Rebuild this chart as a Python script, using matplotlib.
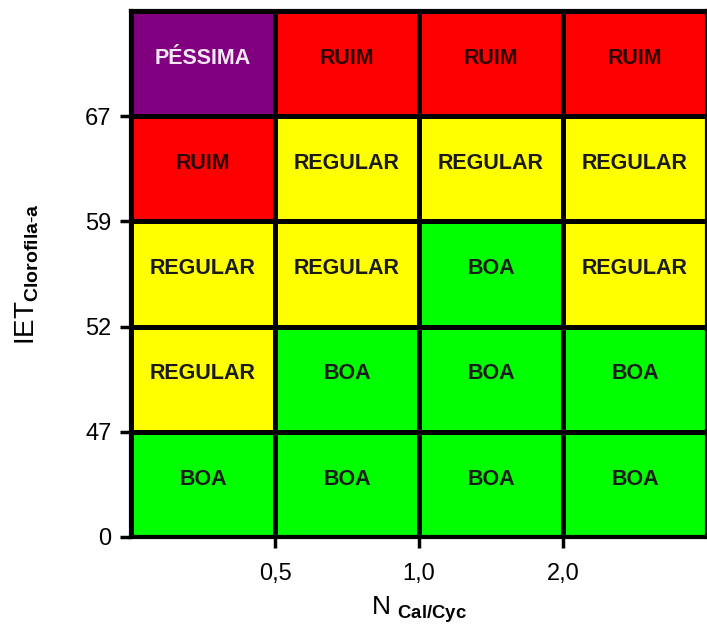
import matplotlib.pyplot as plt
import numpy as np
from matplotlib.colors import ListedColormap, BoundaryNorm

# quality classes and colours
classes = ["BOA", "REGULAR", "RUIM", "PÉSSIMA"]
class_colors = ["#00ff00", "#ffff00", "#ff0000", "#800080"]
text_colors = ["#1a1a1a", "#1a1a1a", "#2a0505", "#f4e8f4"]

x_tick_labels = ["0,5", "1,0", "2,0"]
y_tick_labels = ["0", "47", "52", "59", "67"]

# rows from bottom (IET 0-47) to top (>67), columns N classes
grid = [
    ["BOA", "BOA", "BOA", "BOA"],
    ["REGULAR", "BOA", "BOA", "BOA"],
    ["REGULAR", "REGULAR", "BOA", "REGULAR"],
    ["RUIM", "REGULAR", "REGULAR", "REGULAR"],
    ["PÉSSIMA", "RUIM", "RUIM", "RUIM"],
]

plt.rcParams["font.family"] = ["Liberation Sans", "DejaVu Sans"]
plt.rcParams["mathtext.fontset"] = "custom"
plt.rcParams["mathtext.rm"] = "Liberation Sans"
plt.rcParams["mathtext.bf"] = "Liberation Sans:bold"

codes = np.array([[classes.index(c) for c in row] for row in grid])
n_rows, n_cols = codes.shape

fig = plt.figure(figsize=(7.07, 6.33), dpi=100)
ax = fig.add_axes([0.1853, 0.1517, 0.8147, 0.8309])

cmap = ListedColormap(class_colors)
norm = BoundaryNorm(np.arange(len(classes) + 1) - 0.5, cmap.N)
ax.pcolormesh(np.arange(n_cols + 1), np.arange(n_rows + 1), codes,
              cmap=cmap, norm=norm, edgecolors="black", linewidth=2.3)

for r in range(n_rows):
    for c in range(n_cols):
        k = codes[r, c]
        ax.text(c + 0.5, r + 0.55, grid[r][c], ha="center", va="center",
                fontsize=15.5, fontweight="bold", color=text_colors[k])

ax.set_xlim(0, n_cols)
ax.set_ylim(0, n_rows)
ax.set_xticks(np.arange(1, n_cols))
ax.set_xticklabels(x_tick_labels)
ax.set_yticks(np.arange(n_rows))
ax.set_yticklabels(y_tick_labels)
ax.tick_params(axis="both", length=8, width=2.5, labelsize=17)
ax.tick_params(axis="x", pad=11)
ax.tick_params(axis="y", pad=6)

for side in ["left", "bottom", "top", "right"]:
    ax.spines[side].set_linewidth(3)

ax.set_xlabel(r"N $_{\mathbf{Cal/Cyc}}$", fontsize=19, labelpad=6)
ax.set_ylabel(r"IET$_{\mathbf{Clorofila\text{-}a}}$", fontsize=20, labelpad=32)

plt.savefig("out.png", dpi=100)
